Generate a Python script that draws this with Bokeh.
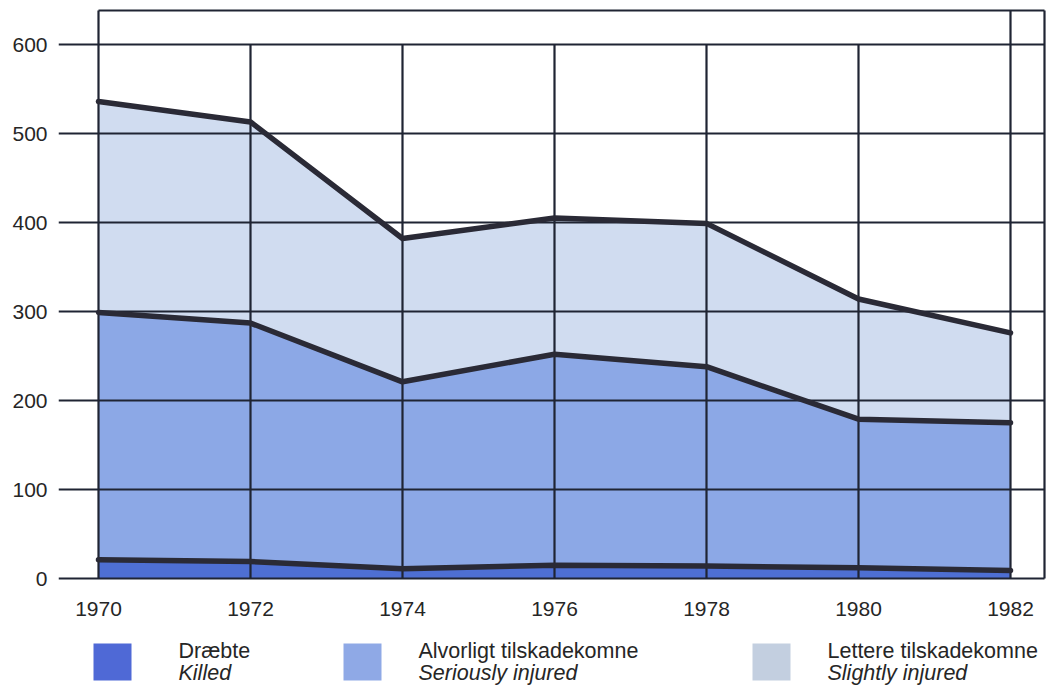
import numpy as np
from bokeh.plotting import figure
from bokeh.layouts import column
from bokeh.models import Range1d, FixedTicker
from bokeh.core.properties import value
from bokeh.embed import file_html
from bokeh.resources import INLINE

# ---- data ----
years = [1970, 1972, 1974, 1976, 1978, 1980, 1982]
killed = [21, 19, 11, 15, 14, 12, 9]
seriously_injured = [278, 268, 210, 237, 224, 167, 166]
slightly_injured = [237, 226, 161, 153, 161, 135, 101]
y_ticks = [0, 100, 200, 300, 400, 500, 600]
legend_da = ["Dræbte", "Alvorligt tilskadekomne", "Lettere tilskadekomne"]
legend_en = ["Killed", "Seriously injured", "Slightly injured"]

c_killed = "#4e6fd3"
c_serious = "#8ca8e6"
c_slight = "#d0dcf0"
c_legend = ["#4f69d6", "#8fa9e6", "#c3cfe0"]
grid_col = "#1f2433"
edge_col = "#2a2a36"
txt_col = "#262626"
FONT = "Liberation Sans"

PX_YR = 76.0
PX_UNIT = 0.89
x0 = 1970 - 40 / PX_YR
x1 = x0 + 989 / PX_YR
y0 = -3 / PX_UNIT
y1 = 578 / PX_UNIT
x_right = 1982 + 34 / PX_YR
y_top = 568 / PX_UNIT

p = figure(width=1050, height=625, x_range=Range1d(x0, x1), y_range=Range1d(y0, y1),
           output_backend="svg", toolbar_location=None,
           min_border_left=58, min_border_right=3, min_border_top=0, min_border_bottom=44)
p.outline_line_color = None
p.grid.visible = False
p.background_fill_color = "white"
p.border_fill_color = "white"

k = np.array(killed, dtype=float)
s = k + np.array(seriously_injured, dtype=float)
t = s + np.array(slightly_injured, dtype=float)

p.varea(x=years, y1=s, y2=t, fill_color=c_slight)
p.varea(x=years, y1=k, y2=s, fill_color=c_serious)
p.varea(x=years, y1=np.zeros_like(k), y2=k, fill_color=c_killed)

# grid
for yt in y_ticks:
    p.line([x0, x_right], [yt, yt], line_color=grid_col, line_width=2.2)
for yr in years:
    top = y_top if yr in (years[0], years[-1]) else y_ticks[-1]
    p.line([yr, yr], [0, top], line_color=grid_col, line_width=2.2)
p.line([years[0], x_right], [y_top, y_top], line_color=grid_col, line_width=2.2)
p.line([x_right, x_right], [0, y_top], line_color=grid_col, line_width=2.2)

# stack boundaries
for arr in (k, s, t):
    p.line(years, arr, line_color=edge_col, line_width=5.5, line_join="round", line_cap="round")

p.xaxis.ticker = FixedTicker(ticks=years)
p.yaxis.ticker = FixedTicker(ticks=y_ticks)
for ax in (p.xaxis, p.yaxis):
    ax.axis_line_color = None
    ax.major_tick_line_color = None
    ax.minor_tick_line_color = None
    ax.major_label_text_font = FONT
    ax.major_label_text_font_size = "21px"
    ax.major_label_text_color = txt_col
p.xaxis.major_label_standoff = 14
p.yaxis.major_label_standoff = 5

# ---- legend panel (frame aligned with main frame: pixels 58..1047) ----
lg = figure(width=1050, height=60, x_range=Range1d(58, 1047), y_range=Range1d(60, 0),
            output_backend="svg", toolbar_location=None,
            x_axis_location=None, y_axis_location=None,
            min_border_left=58, min_border_right=3, min_border_top=0, min_border_bottom=0)
lg.outline_line_color = None
lg.grid.visible = False
sq_x = [112, 362, 771]
txt_x = [178, 418, 827]
lg.rect(x=sq_x, y=[36.5] * 3, width=38, height=37, fill_color=c_legend, line_color=None)
lg.text(x=txt_x, y=[25] * 3, text=legend_da, text_font=value(FONT), text_font_size="21.5px",
        text_color=txt_col, text_baseline="middle")
lg.text(x=txt_x, y=[47] * 3, text=legend_en, text_font=value(FONT), text_font_size="21.5px",
        text_font_style="italic", text_color=txt_col, text_baseline="middle")

layout = column(p, lg, spacing=0)
open("out.html", "w").write(file_html(layout, INLINE))
